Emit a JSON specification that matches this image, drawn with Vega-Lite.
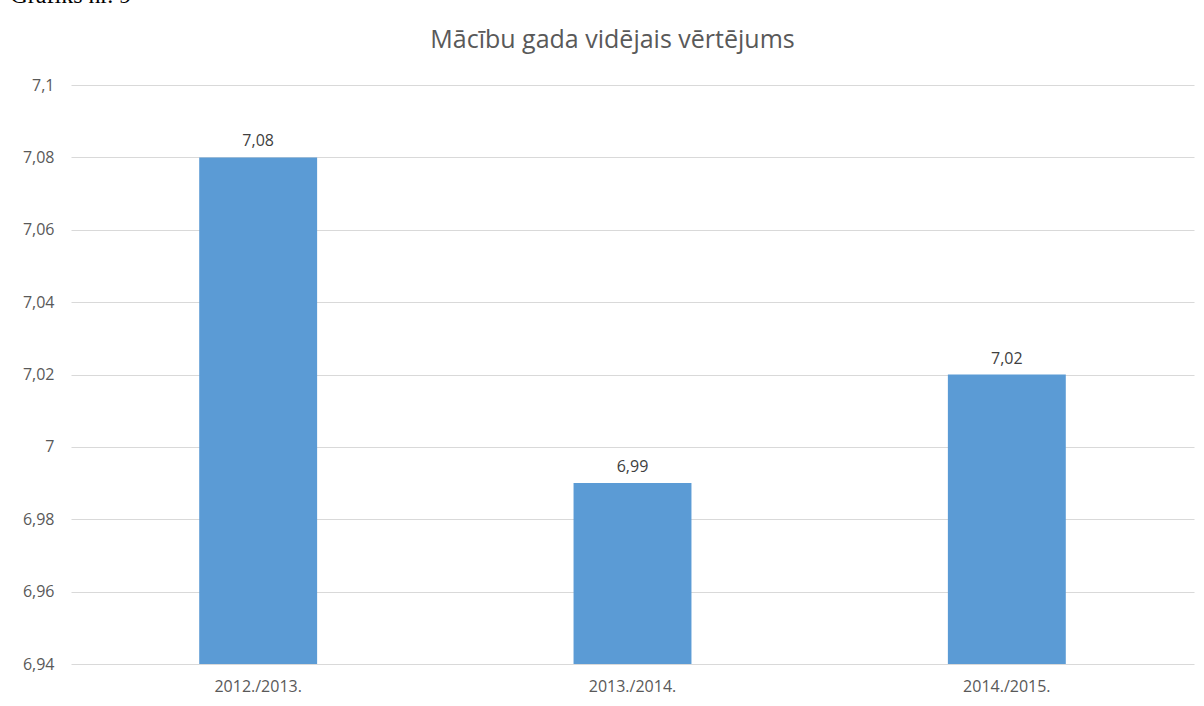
{
  "$schema": "https://vega.github.io/schema/vega-lite/v6.json",
  "autosize": {"type": "none"},
  "width": 1123,
  "height": 579,
  "padding": {"left": 71, "top": 85, "right": 10, "bottom": 42},
  "background": "white",
  "config": {"view": {"stroke": null}, "font": "Open Sans"},
  "title": {
    "text": "Mācību gada vidējais vērtējums",
    "fontSize": 25,
    "fontWeight": "normal",
    "color": "#595959",
    "font": "Open Sans",
    "anchor": "middle",
    "dx": -20,
    "offset": -70
  },
  "data": {
    "values": [
      {"year": "2012./2013.", "value": 7.08, "label": "7,08"},
      {"year": "2013./2014.", "value": 6.99, "label": "6,99"},
      {"year": "2014./2015.", "value": 7.02, "label": "7,02"}
    ]
  },
  "encoding": {
    "x": {
      "field": "year",
      "type": "nominal",
      "sort": null,
      "scale": {"paddingInner": 0.685, "paddingOuter": 0.3425},
      "axis": {
        "title": null,
        "labelAngle": 0,
        "labelFontSize": 16,
        "labelColor": "#595959",
        "labelPadding": 14,
        "ticks": false,
        "domain": false
      }
    },
    "y": {
      "field": "value",
      "type": "quantitative",
      "scale": {"domain": [6.94, 7.1], "zero": false, "nice": false},
      "axis": {
        "title": "Grafiks nr. 9",
        "titleFont": "Liberation Serif",
        "titleFontSize": 24,
        "titleFontWeight": "normal",
        "titleColor": "#000000",
        "titleAngle": 0,
        "titleAlign": "left",
        "titleBaseline": "alphabetic",
        "titleX": -61,
        "titleY": -83,
        "values": [6.94, 6.96, 6.98, 7.0, 7.02, 7.04, 7.06, 7.08, 7.1],
        "labelExpr": "replace(toString(round(datum.value*100)/100), '.', ',')",
        "labelFontSize": 16,
        "labelColor": "#595959",
        "labelPadding": 17,
        "ticks": false,
        "domain": false,
        "gridColor": "#d9d9d9",
        "gridWidth": 1
      }
    }
  },
  "layer": [
    {
      "mark": {"type": "bar", "color": "#5b9bd5"},
      "encoding": {"y2": {"datum": 6.94}}
    },
    {
      "mark": {"type": "text", "baseline": "bottom", "dy": -8, "fontSize": 16, "color": "#404040"},
      "encoding": {
        "text": {"field": "label", "type": "nominal"}
      }
    }
  ]
}
